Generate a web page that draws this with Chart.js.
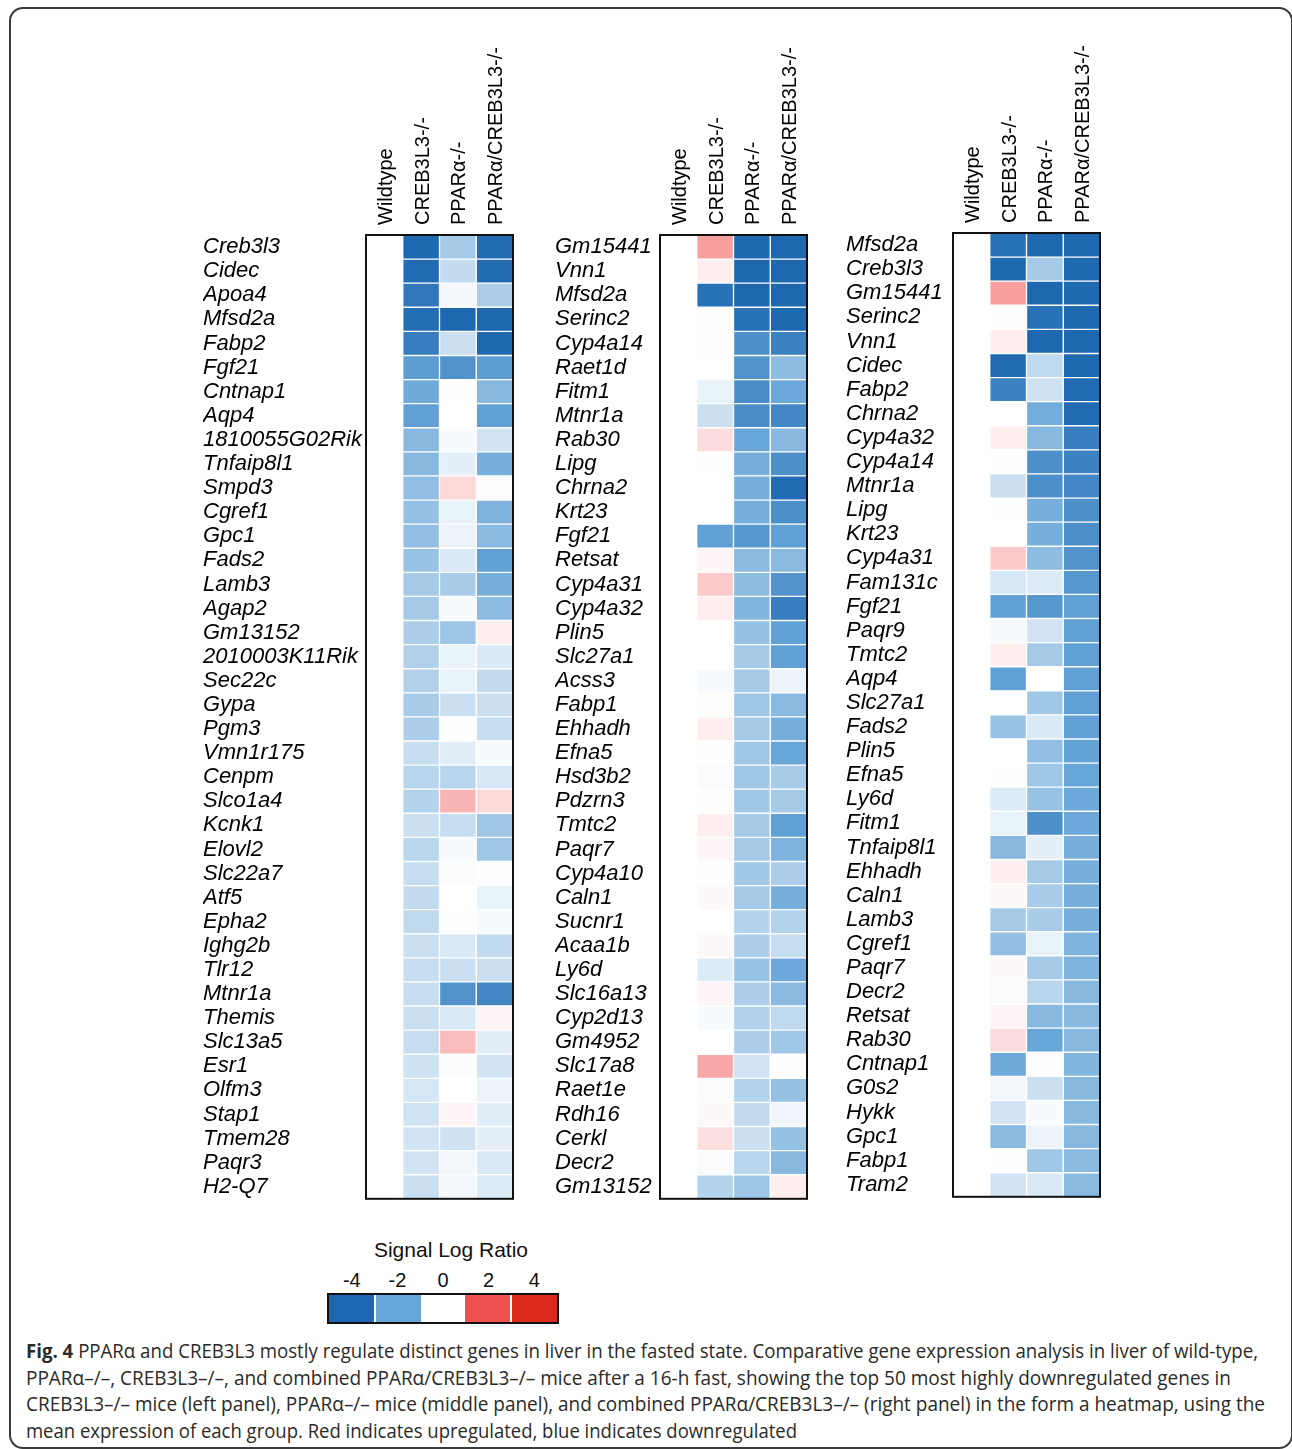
<!DOCTYPE html>
<html>
<head>
<meta charset="utf-8">
<script src="https://cdn.jsdelivr.net/npm/chart.js@4.4.1/dist/chart.umd.min.js"></script>
<style>
  body { margin: 0; background: #fff; width: 1292px; height: 1449px; position: relative; overflow: hidden;
         font-family: "Liberation Sans", Arial, sans-serif; }
  .frame { position: absolute; left: 9px; top: 7px; width: 1280px; height: 1438px;
           border: 2px solid #3a3a3a; border-radius: 14px; }
  canvas.panel { position: absolute; }
  #legendTitle { position: absolute; left: 327px; width: 248px; top: 1238px; text-align: center; font-size: 21px; color: #111; }
  .tickLabel { position: absolute; top: 1269px; width: 40px; margin-left: -20px; text-align: center; font-size: 20px; color: #111; }
  #colorbar { position: absolute; left: 327px; top: 1293px; width: 232px; height: 31px; box-sizing: border-box;
              border: 2px solid #111; display: flex; }
  #colorbar div { flex: 1; }
  #caption { position: absolute; left: 26px; top: 1338px; font-family: "Liberation Sans Narrow", "Open Sans", sans-serif;
             font-size: 20px; line-height: 26.5px; color: #2a2a2a; white-space: nowrap; }
  #caption span { display: inline-block; transform-origin: 0 0; }
</style>
</head>
<body>
<div class="frame"></div>
<canvas id="leftPanel" class="panel" width="320" height="1185" style="left:203px; top:20px;"></canvas>
<canvas id="middlePanel" class="panel" width="262" height="1185" style="left:555px; top:20px;"></canvas>
<canvas id="rightPanel" class="panel" width="264" height="1185" style="left:846px; top:18px;"></canvas>

<div id="legendTitle">Signal Log Ratio</div>
<div id="colorbar"></div>

<div id="caption">
<span><b>Fig. 4</b> PPARα and CREB3L3 mostly regulate distinct genes in liver in the fasted state. Comparative gene expression analysis in liver of wild-type,</span><br>
<span>PPARα–/–, CREB3L3–/–, and combined PPARα/CREB3L3–/– mice after a 16-h fast, showing the top 50 most highly downregulated genes in</span><br>
<span>CREB3L3–/– mice (left panel), PPARα–/– mice (middle panel), and combined PPARα/CREB3L3–/– (right panel) in the form a heatmap, using the</span><br>
<span>mean expression of each group. Red indicates upregulated, blue indicates downregulated</span>
</div>

<script>
const columnNames = ['Wildtype', 'CREB3L3-/-', 'PPARα-/-', 'PPARα/CREB3L3-/-'];

const wildtypeValues = [0, 0, 0, 0, 0, 0, 0, 0, 0, 0, 0, 0, 0, 0, 0, 0, 0, 0, 0, 0,
                        0, 0, 0, 0, 0, 0, 0, 0, 0, 0, 0, 0, 0, 0, 0, 0, 0, 0, 0, 0];

// left panel: top downregulated in CREB3L3-/-
const leftGenes = ['Creb3l3', 'Cidec', 'Apoa4', 'Mfsd2a', 'Fabp2', 'Fgf21', 'Cntnap1', 'Aqp4', '1810055G02Rik', 'Tnfaip8l1',
  'Smpd3', 'Cgref1', 'Gpc1', 'Fads2', 'Lamb3', 'Agap2', 'Gm13152', '2010003K11Rik', 'Sec22c', 'Gypa',
  'Pgm3', 'Vmn1r175', 'Cenpm', 'Slco1a4', 'Kcnk1', 'Elovl2', 'Slc22a7', 'Atf5', 'Epha2', 'Ighg2b',
  'Tlr12', 'Mtnr1a', 'Themis', 'Slc13a5', 'Esr1', 'Olfm3', 'Stap1', 'Tmem28', 'Paqr3', 'H2-Q7'];
const leftCreb = [-4, -3.9, -3.5, -3.8, -3.3, -2.3, -1.9, -2.2, -1.6, -1.6,
  -1.45, -1.4, -1.45, -1.35, -1.2, -1.2, -1.1, -1.05, -1.05, -1.15,
  -1.1, -0.75, -0.95, -1.0, -0.7, -0.9, -0.75, -0.8, -0.85, -0.7,
  -0.75, -0.75, -0.7, -0.75, -0.65, -0.55, -0.62, -0.6, -0.6, -0.7];
const leftPpar = [-1.2, -0.8, -0.15, -4, -0.7, -2.6, 0.02, 0, -0.1, -0.35,
  0.45, -0.3, -0.25, -0.5, -1.15, -0.1, -1.3, -0.3, -0.3, -0.7,
  -0.05, -0.4, -0.95, 0.86, -0.75, -0.1, -0.08, 0, -0.05, -0.5,
  -0.7, -2.6, -0.5, 0.77, -0.07, 0, 0.1, -0.65, -0.18, -0.18];
const leftDouble = [-3.9, -3.9, -1.1, -4, -4, -2.3, -1.6, -2.2, -0.6, -1.8,
  -0.05, -1.7, -1.55, -2.2, -1.8, -1.5, 0.2, -0.5, -0.8, -0.7,
  -0.75, -0.1, -0.55, 0.45, -1.25, -1.25, -0.05, -0.3, -0.12, -0.85,
  -0.7, -3.0, 0.1, -0.4, -0.6, -0.25, -0.4, -0.35, -0.5, -0.45];

// middle panel: top downregulated in PPARα-/-
const middleGenes = ['Gm15441', 'Vnn1', 'Mfsd2a', 'Serinc2', 'Cyp4a14', 'Raet1d', 'Fitm1', 'Mtnr1a', 'Rab30', 'Lipg',
  'Chrna2', 'Krt23', 'Fgf21', 'Retsat', 'Cyp4a31', 'Cyp4a32', 'Plin5', 'Slc27a1', 'Acss3', 'Fabp1',
  'Ehhadh', 'Efna5', 'Hsd3b2', 'Pdzrn3', 'Tmtc2', 'Paqr7', 'Cyp4a10', 'Caln1', 'Sucnr1', 'Acaa1b',
  'Ly6d', 'Slc16a13', 'Cyp2d13', 'Gm4952', 'Slc17a8', 'Raet1e', 'Rdh16', 'Cerkl', 'Decr2', 'Gm13152'];
const middleCreb = [1.1, 0.2, -3.7, 0.03, 0.03, 0, -0.3, -0.7, 0.4, -0.03,
  0, 0, -2.2, 0.1, 0.6, 0.2, 0, 0, -0.12, 0.03,
  0.2, 0.02, -0.08, 0.03, 0.2, 0.1, 0.02, 0.07, 0, 0.07,
  -0.45, 0.1, -0.1, 0, 1.0, -0.08, 0.07, 0.35, -0.08, -1.0];
const middlePpar = [-4, -4, -4, -3.7, -2.7, -2.6, -2.8, -2.8, -2.0, -1.8,
  -1.8, -1.8, -2.5, -1.55, -1.5, -1.65, -1.4, -1.2, -1.2, -1.25,
  -1.2, -1.25, -1.25, -1.25, -1.2, -1.2, -1.25, -1.2, -1.0, -1.1,
  -1.35, -1.1, -1.05, -1.1, -0.6, -1.0, -0.8, -0.7, -0.95, -1.3];
const middleDouble = [-4, -4, -4, -4, -3.2, -1.5, -1.95, -3.0, -1.6, -2.7,
  -3.9, -2.75, -2.2, -1.55, -2.6, -3.3, -2.15, -2.2, -0.25, -1.55,
  -1.8, -2.0, -1.15, -1.2, -2.2, -1.7, -1.1, -1.8, -1.0, -0.75,
  -1.95, -1.55, -0.85, -1.25, 0.02, -1.4, -0.2, -1.4, -1.6, 0.2];

// right panel: top downregulated in PPARα/CREB3L3-/-
const rightGenes = ['Mfsd2a', 'Creb3l3', 'Gm15441', 'Serinc2', 'Vnn1', 'Cidec', 'Fabp2', 'Chrna2', 'Cyp4a32', 'Cyp4a14',
  'Mtnr1a', 'Lipg', 'Krt23', 'Cyp4a31', 'Fam131c', 'Fgf21', 'Paqr9', 'Tmtc2', 'Aqp4', 'Slc27a1',
  'Fads2', 'Plin5', 'Efna5', 'Ly6d', 'Fitm1', 'Tnfaip8l1', 'Ehhadh', 'Caln1', 'Lamb3', 'Cgref1',
  'Paqr7', 'Decr2', 'Retsat', 'Rab30', 'Cntnap1', 'G0s2', 'Hykk', 'Gpc1', 'Fabp1', 'Tram2'];
const rightCreb = [-3.7, -4, 1.1, 0.02, 0.2, -3.9, -3.2, 0, 0.2, 0.02,
  -0.7, -0.03, 0, 0.6, -0.55, -2.2, -0.1, 0.2, -2.2, 0,
  -1.35, 0, 0.02, -0.45, -0.3, -1.6, 0.2, 0.07, -1.2, -1.45,
  0.07, -0.08, 0.1, 0.4, -1.9, -0.17, -0.6, -1.55, 0.02, -0.6];
const rightPpar = [-4, -1.2, -4, -3.7, -4, -0.85, -0.65, -1.85, -1.6, -2.7,
  -2.75, -1.8, -1.8, -1.5, -0.45, -2.5, -0.6, -1.2, 0, -1.25,
  -0.5, -1.45, -1.25, -1.35, -2.7, -0.35, -1.2, -1.15, -1.15, -0.3,
  -1.2, -0.95, -1.6, -2.0, 0.02, -0.7, -0.1, -0.25, -1.25, -0.5];
const rightDouble = [-4, -4, -4, -4, -4, -4, -3.9, -3.9, -3.3, -3.2,
  -3.0, -2.75, -2.75, -2.6, -2.5, -2.2, -2.2, -2.2, -2.2, -2.2,
  -2.15, -2.1, -2.0, -1.95, -1.95, -1.8, -1.8, -1.8, -1.8, -1.7,
  -1.7, -1.6, -1.6, -1.6, -1.65, -1.6, -1.6, -1.6, -1.55, -1.55];

const legendTicks = ['-4', '-2', '0', '2', '4'];
const legendColors = ['#1f66b0', '#68a6d8', '#ffffff', '#ef5050', '#dc2a1e'];

const fontFamily = 'Arial, "Liberation Sans", Helvetica, sans-serif';

// colour stops of the Signal Log Ratio scale
const stops = [
  [-4, [30, 104, 176]],
  [-2, [104, 166, 216]],
  [0, [255, 255, 255]],
  [2, [240, 80, 80]],
  [4, [220, 42, 30]]
];

function cellColor(v) {
  if (v <= stops[0][0]) return 'rgb(' + stops[0][1].join(',') + ')';
  for (let i = 0; i < stops.length - 1; i++) {
    const [a, ca] = stops[i];
    const [b, cb] = stops[i + 1];
    if (v <= b) {
      const t = (v - a) / (b - a);
      const c = ca.map((x, k) => Math.round(x + (cb[k] - x) * t));
      return 'rgb(' + c.join(',') + ')';
    }
  }
  return 'rgb(' + stops[stops.length - 1][1].join(',') + ')';
}

// black box round the heat map and the rotated group names above it
const framePlugin = {
  id: 'frame',
  afterDatasetsDraw(chart) {
    const { ctx, chartArea: a } = chart;
    const xs = chart.scales.x;
    ctx.save();
    ctx.strokeStyle = '#111';
    ctx.lineWidth = 2;
    ctx.strokeRect(a.left, a.top, a.right - a.left, a.bottom - a.top);
    ctx.fillStyle = '#000';
    ctx.font = '20px ' + fontFamily;
    ctx.textAlign = 'left';
    ctx.textBaseline = 'middle';
    columnNames.forEach((name, i) => {
      ctx.save();
      ctx.translate(xs.getPixelForValue(i + 0.5) + 2, a.top - 10);
      ctx.rotate(-Math.PI / 2);
      ctx.fillText(name, 0, 0);
      ctx.restore();
    });
    ctx.restore();
  }
};

function buildPanel(canvas, genes, series, yAxisWidth) {
  return new Chart(canvas.getContext('2d'), {
    type: 'bar',
    data: {
      labels: genes,
      datasets: series.map((vals, i) => ({
        label: columnNames[i],
        data: vals.map(() => 1),   // each cell is one column wide
        backgroundColor: vals.map(cellColor),
        borderColor: '#ffffff',
        borderWidth: 1,
        borderSkipped: false,
        barPercentage: 1,
        categoryPercentage: 1
      }))
    },
    options: {
      indexAxis: 'y',
      responsive: false,
      animation: false,
      layout: { padding: { top: 215, right: 10, bottom: 6, left: 0 } },
      scales: {
        x: {
          type: 'linear',
          display: false,
          stacked: true,
          min: 0,
          max: 4
        },
        y: {
          stacked: true,
          grid: { display: false },
          border: { display: false },
          afterFit: scale => { scale.width = yAxisWidth; },
          ticks: {
            autoSkip: false,
            crossAlign: 'far',
            color: '#000',
            font: { size: 22, style: 'italic', family: fontFamily }
          }
        }
      },
      plugins: {
        legend: { display: false },
        tooltip: { enabled: false }
      }
    },
    plugins: [framePlugin]
  });
}

// build, then grow the canvas so the heat map ends at the wanted height
function makePanel(id, genes, series, yAxisWidth, areaBottom) {
  const canvas = document.getElementById(id);
  let chart = buildPanel(canvas, genes, series, yAxisWidth);
  const diff = Math.round(areaBottom - chart.chartArea.bottom);
  if (diff !== 0) {
    const h = canvas.height;
    chart.destroy();
    canvas.width = parseInt(canvas.getAttribute('width'), 10);
    canvas.height = h + diff;
    chart = buildPanel(canvas, genes, series, yAxisWidth);
  }
}

makePanel('leftPanel', leftGenes, [wildtypeValues, leftCreb, leftPpar, leftDouble], 163, 1179);
makePanel('middlePanel', middleGenes, [wildtypeValues, middleCreb, middlePpar, middleDouble], 105, 1179);
makePanel('rightPanel', rightGenes, [wildtypeValues, rightCreb, rightPpar, rightDouble], 107, 1179);

// colour bar legend
const bar = document.getElementById('colorbar');
legendColors.forEach((c, i) => {
  const seg = document.createElement('div');
  seg.style.background = c;
  if (i === 1 || i === 4) seg.style.borderLeft = '2px solid #fff';
  bar.appendChild(seg);
});
const segW = (232 - 4) / legendTicks.length;
legendTicks.forEach((t, i) => {
  const lab = document.createElement('div');
  lab.className = 'tickLabel';
  lab.textContent = t;
  lab.style.left = (327 + 2 + segW * (i + 0.5)) + 'px';
  document.body.appendChild(lab);
});

// stretch caption lines to the widths they have in the figure
const lineEnds = [1258, 1231, 1265, 797];
document.querySelectorAll('#caption span').forEach((s, i) => {
  const w = s.getBoundingClientRect().width;
  s.style.transform = 'scaleX(' + ((lineEnds[i] - 26) / w) + ')';
});
</script>
</body>
</html>
